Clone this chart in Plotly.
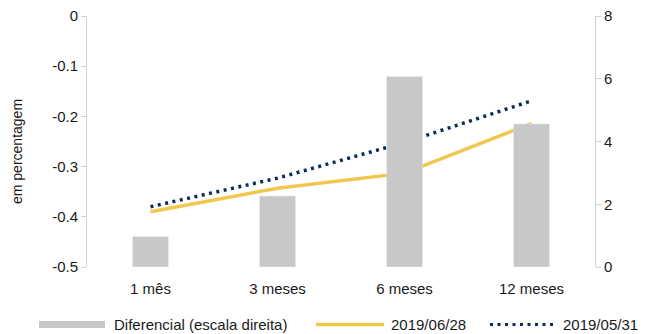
import plotly.graph_objects as go

categories = ["1 mês", "3 meses", "6 meses", "12 meses"]
diferencial = [0.97, 2.26, 6.07, 4.56]
s_0628 = [-0.39, -0.343, -0.313, -0.214]
s_0531 = [-0.38, -0.323, -0.252, -0.169]
left_ticks = [0, -0.1, -0.2, -0.3, -0.4, -0.5]
left_ticktext = ["0", "-0.1", "-0.2", "-0.3", "-0.4", "-0.5"]
right_ticks = [0, 2, 4, 6, 8]
legend_names = ["Diferencial (escala direita)", "2019/06/28", "2019/05/31"]

FONT = "Liberation Sans, Arial, sans-serif"
AXC = "#d0d0d0"
GRAY = "#c8c8c8"
YEL = "#f2c74f"
NAVY = "#0c2d5c"
DOTS = "3px,4.5px"

OFF = 8  # page body margin
W, H = 646 - OFF, 334 - OFF
L, T = 87 - OFF, 16 - OFF
R, B = W - (595 - OFF), H - (267 - OFF)
PW, PH = W - L - R, H - T - B


def px(x):
    return (x - OFF - L) / PW


def py(y):
    return (H - B - (y - OFF)) / PH


fig = go.Figure()
fig.add_trace(go.Bar(x=categories, y=diferencial, yaxis="y2", marker_color=GRAY,
                     width=0.283, name=legend_names[0]))
fig.add_trace(go.Scatter(x=categories, y=s_0628, mode="lines", line=dict(color=YEL, width=3.5),
                         name=legend_names[1]))
fig.add_trace(go.Scatter(x=categories, y=s_0531, mode="lines",
                         line=dict(color=NAVY, width=3.5, dash=DOTS), name=legend_names[2]))

ly = 324.5
shapes = [
    dict(type="rect", xref="paper", yref="paper", x0=px(39), x1=px(105), y0=py(ly + 3.5), y1=py(ly - 3.5),
         fillcolor=GRAY, line=dict(width=0)),
    dict(type="line", xref="paper", yref="paper", x0=px(316), x1=px(384), y0=py(ly), y1=py(ly),
         line=dict(color=YEL, width=3.5)),
    dict(type="line", xref="paper", yref="paper", x0=px(490), x1=px(557), y0=py(ly), y1=py(ly),
         line=dict(color=NAVY, width=3, dash=DOTS)),
]
annotations = [
    dict(text=legend_names[0], xref="paper", yref="paper", x=px(112), y=py(ly), xanchor="left",
         yanchor="middle", showarrow=False, font=dict(size=15)),
    dict(text=legend_names[1], xref="paper", yref="paper", x=px(389), y=py(ly), xanchor="left",
         yanchor="middle", showarrow=False, font=dict(size=15)),
    dict(text=legend_names[2], xref="paper", yref="paper", x=px(561), y=py(ly), xanchor="left",
         yanchor="middle", showarrow=False, font=dict(size=15)),
    dict(text="em percentagem", xref="paper", yref="paper", x=px(17), y=py(152), xanchor="center",
         yanchor="middle", textangle=-90, showarrow=False, font=dict(size=14)),
]

fig.update_layout(
    width=W, height=H,
    margin=dict(l=L, r=R, t=T, b=B),
    paper_bgcolor="white", plot_bgcolor="white",
    font=dict(family=FONT, size=15, color="#1a1a1a"),
    showlegend=False,
    xaxis=dict(showline=False, showgrid=False, ticks="outside", ticklen=8, tickcolor="rgba(0,0,0,0)",
               tickfont=dict(size=15), automargin=False),
    yaxis=dict(range=[-0.5, 0], tickvals=left_ticks, ticktext=left_ticktext, showgrid=False,
               zeroline=False, showline=True, linecolor=AXC, linewidth=1, ticks="outside", ticklen=5,
               tickcolor=AXC, tickfont=dict(size=15), automargin=False, ticklabeloverflow="allow"),
    yaxis2=dict(range=[0, 8], tickvals=right_ticks, overlaying="y", side="right", showgrid=False,
                zeroline=False, showline=True, linecolor=AXC, linewidth=1, ticks="outside", ticklen=5,
                tickcolor=AXC, tickfont=dict(size=15), automargin=False, ticklabeloverflow="allow"),
    shapes=shapes,
    annotations=annotations,
)
fig.write_html("out.html")
